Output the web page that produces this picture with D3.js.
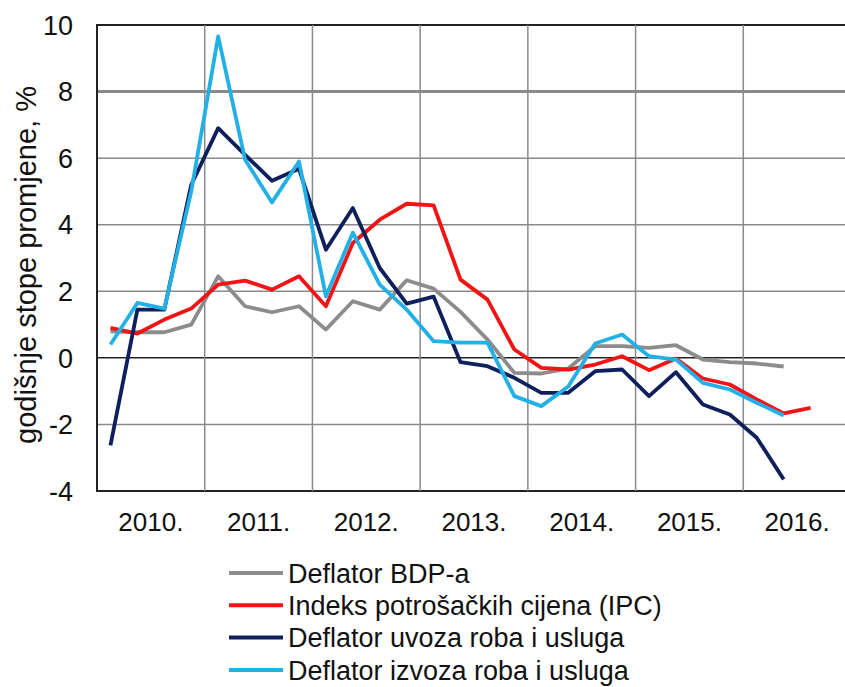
<!DOCTYPE html>
<html lang="hr">
<head>
  <meta charset="UTF-8" />
  <title>Deflatori</title>
  <script src="https://d3js.org/d3.v7.min.js"></script>
  <style>
    body {
      margin: 0;
      background: #fff;
    }
    svg {
      display: block;
      font-family: "Liberation Sans", Arial, sans-serif;
    }
  </style>
</head>
<body>
  <svg id="chart" width="845" height="687"></svg>

  <script>
    const years = ["2010", "2011", "2012", "2013", "2014", "2015", "2016"];
    const yearLabels = ["2010.", "2011.", "2012.", "2013.", "2014.", "2015.", "2016."];
    const yTicks = [-4, -2, 0, 2, 4, 6, 8, 10];

    // quarterly values, 2010 Q1 onward
    const bdpDeflator = [0.8, 0.77, 0.77, 1.0, 2.45, 1.55, 1.37, 1.55, 0.85, 1.7, 1.45, 2.33, 2.08,
      1.38, 0.55, -0.45, -0.47, -0.32, 0.35, 0.35, 0.3, 0.38, -0.05, -0.13, -0.17, -0.26];
    const ipc = [0.9, 0.73, 1.15, 1.48, 2.2, 2.32, 2.05, 2.45, 1.55, 3.45, 4.15, 4.63, 4.58,
      2.35, 1.75, 0.25, -0.3, -0.35, -0.2, 0.05, -0.37, -0.02, -0.62, -0.8, -1.25, -1.67, -1.5];
    const uvozDeflator = [-2.63, 1.45, 1.45, 5.2, 6.9, 6.1, 5.32, 5.68, 3.25, 4.5, 2.7, 1.63, 1.84,
      -0.13, -0.25, -0.6, -1.05, -1.05, -0.4, -0.35, -1.15, -0.43, -1.4, -1.7, -2.4, -3.65];
    const izvozDeflator = [0.4, 1.65, 1.48, 5.0, 9.66, 5.95, 4.67, 5.9, 1.85, 3.76, 2.2, 1.45, 0.5,
      0.46, 0.46, -1.15, -1.45, -0.86, 0.43, 0.7, 0.05, -0.05, -0.75, -0.95, -1.35, -1.73];

    const seriesNames = [
      "Deflator BDP-a",
      "Indeks potrošačkih cijena (IPC)",
      "Deflator uvoza roba i usluga",
      "Deflator izvoza roba i usluga"
    ];
    const seriesColors = ["#8c8c8c", "#f21414", "#0f1f5c", "#22b0e6"];
    const seriesValues = [bdpDeflator, ipc, uvozDeflator, izvozDeflator];

    const quarters = years.flatMap(y => ["Q1", "Q2", "Q3", "Q4"].map(q => y + q));

    const svg = d3.select("#chart");
    const plot = { left: 97, right: 851, top: 25, bottom: 491 };

    const x = d3.scaleBand().domain(quarters).range([plot.left, plot.right]).padding(0);
    const y = d3.scaleLinear().domain([-4, 10]).range([plot.bottom, plot.top]);
    const xc = q => x(q) + x.bandwidth() / 2;

    // horizontal grid
    svg.append("g")
      .selectAll("line")
      .data(yTicks)
      .join("line")
      .attr("x1", plot.left)
      .attr("x2", plot.right)
      .attr("y1", d => y(d))
      .attr("y2", d => y(d))
      .attr("stroke", d => (d === 0 || d === 10 || d === -4) ? "#222" : "#8a8a8a")
      .attr("stroke-width", d => d === 8 ? 3 : (d === 10 || d === -4 ? 2 : 1.5));

    // vertical grid at year starts
    svg.append("g")
      .selectAll("line")
      .data(years.slice(1))
      .join("line")
      .attr("x1", d => x(d + "Q1"))
      .attr("x2", d => x(d + "Q1"))
      .attr("y1", plot.top)
      .attr("y2", plot.bottom)
      .attr("stroke", "#8a8a8a")
      .attr("stroke-width", 1.5);

    svg.append("line")
      .attr("x1", plot.left).attr("x2", plot.left)
      .attr("y1", plot.top - 1).attr("y2", plot.bottom + 1)
      .attr("stroke", "#222").attr("stroke-width", 2);

    // y tick labels
    svg.append("g")
      .selectAll("text")
      .data(yTicks)
      .join("text")
      .attr("x", 73)
      .attr("y", d => y(d))
      .attr("dy", "0.36em")
      .attr("text-anchor", "end")
      .attr("font-size", 27)
      .attr("fill", "#111")
      .text(d => d);

    // year labels
    svg.append("g")
      .selectAll("text")
      .data(years)
      .join("text")
      .attr("x", d => x(d + "Q1") + x.bandwidth() * 2)
      .attr("y", 531)
      .attr("text-anchor", "middle")
      .attr("font-size", 26)
      .attr("fill", "#111")
      .text((d, i) => yearLabels[i]);

    svg.append("text")
      .attr("transform", "translate(36,265) rotate(-90)")
      .attr("text-anchor", "middle")
      .attr("font-size", 29)
      .attr("fill", "#111")
      .text("godišnje stope promjene, %");

    const line = d3.line()
      .x((d, i) => xc(quarters[i]))
      .y(d => y(d));

    svg.append("g")
      .selectAll("path")
      .data(seriesValues)
      .join("path")
      .attr("d", d => line(d))
      .attr("fill", "none")
      .attr("stroke", (d, i) => seriesColors[i])
      .attr("stroke-width", 3.8)
      .attr("stroke-linejoin", "round");

    // legend
    const legend = svg.append("g")
      .selectAll("g")
      .data(seriesNames)
      .join("g")
      .attr("transform", (d, i) => `translate(229,${573 + i * 32.3})`);

    legend.append("line")
      .attr("x1", 0).attr("x2", 54)
      .attr("stroke", (d, i) => seriesColors[i])
      .attr("stroke-width", 4);

    legend.append("text")
      .attr("x", 59)
      .attr("dy", "0.36em")
      .attr("font-size", 27)
      .attr("fill", "#111")
      .text(d => d);
  </script>
</body>
</html>
